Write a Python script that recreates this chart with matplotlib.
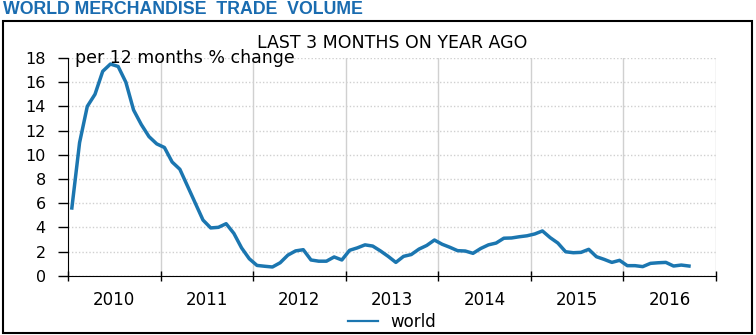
import matplotlib.pyplot as plt
from matplotlib.lines import Line2D
from matplotlib.patches import Rectangle
import numpy as np

# monthly values, Jan 2010 .. Sep 2016
world = [5.6, 11.0, 14.0, 15.0, 16.9, 17.5, 17.3, 16.0, 13.7, 12.5, 11.5, 10.9,
         10.6, 9.4, 8.8, 7.4, 6.0, 4.6, 3.95, 4.0, 4.3, 3.5, 2.3, 1.4,
         0.85, 0.78, 0.72, 1.07, 1.7, 2.05, 2.15, 1.3, 1.2, 1.2, 1.55, 1.3,
         2.1, 2.3, 2.55, 2.45, 2.05, 1.6, 1.1, 1.6, 1.75, 2.2, 2.5, 2.95,
         2.6, 2.35, 2.07, 2.04, 1.85, 2.25, 2.55, 2.7, 3.1, 3.12, 3.22, 3.3,
         3.45, 3.7, 3.15, 2.7, 1.98, 1.9, 1.93, 2.18, 1.57, 1.35, 1.1, 1.27,
         0.83, 0.83, 0.75, 1.02, 1.07, 1.1, 0.8, 0.88, 0.8]
years = [2010, 2011, 2012, 2013, 2014, 2015, 2016]
yticks = [0, 2, 4, 6, 8, 10, 12, 14, 16, 18]

line_col = '#1b76b0'
plt.rcParams['font.family'] = 'DejaVu Sans'

fig = plt.figure(figsize=(7.56, 3.35), dpi=100)
ax = fig.add_axes([68/756, 1-275.7/335, (716-68)/756, (275.7-58)/335])

x = 2010 + (np.arange(len(world)) + 0.5) / 12
ax.plot(x, world, color=line_col, lw=2.5, solid_joinstyle='round')

ax.set_xlim(2010, 2017)
ax.set_ylim(0, 18)
ax.set_yticks(yticks)
ax.set_xticks(range(2010, 2018))
ax.set_xticklabels([])
ax.set_xticks([y + 0.5 for y in years], minor=True)
ax.set_xticklabels([str(y) for y in years], minor=True)
ax.tick_params(axis='x', which='minor', length=0, pad=11, labelsize=12)
ax.tick_params(axis='x', which='major', direction='inout', length=7, width=1)
ax.tick_params(axis='y', direction='out', length=7, width=1, pad=9, labelsize=11.5)

ax.grid(axis='y', color='#d0d0d0', ls=(0, (1, 1.5)), lw=1)
for yr in range(2011, 2018):
    ax.axvline(yr, color='#d0d0d0', lw=1, zorder=0)
ax.spines['top'].set_visible(False)
ax.spines['right'].set_visible(False)
ax.set_axisbelow(True)

ax.text(2010.08, 18, 'per 12 months % change', fontsize=12.5, va='center', ha='left')
fig.text(392/756, 1-43/335, 'LAST 3 MONTHS ON YEAR AGO', fontsize=12.5,
         ha='center', va='center')
fig.text(3/756, 1-10/335, 'WORLD MERCHANDISE  TRADE  VOLUME', fontsize=12.8,
         fontweight='bold', color='#1a6cb0', ha='left', va='center',
         family='Liberation Sans')

fig.patches.append(Rectangle((3/756, 2/335), 749/756, 312/335, transform=fig.transFigure,
                             fill=False, ec='black', lw=1.5))

handle = Line2D([], [], color=line_col, lw=1.6)
fig.legend([handle], ['world'], loc='center', bbox_to_anchor=(392/756, 1-322/335),
           frameon=False, fontsize=12, handlelength=1.8, handletextpad=0.7)

fig.savefig('out.png', dpi=100)
